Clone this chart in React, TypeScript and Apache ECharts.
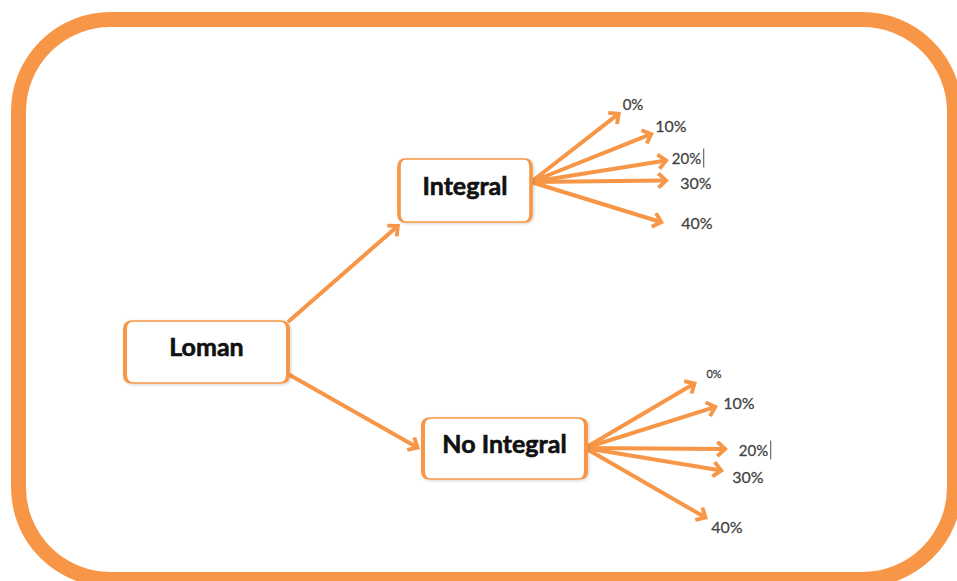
import React, { useEffect, useRef } from "react";
import * as echarts from "echarts";

// ---- content ----
const rootName = "Loman";
const branchNames = ["Integral", "No Integral"];
const rateLabels = ["0%", "10%", "20%", "30%", "40%"];

// ---- layout (pixel space of the 957x581 view) ----
const boxCenters = [
  [206.5, 352],
  [465, 190.5],
  [504.5, 448.5],
];
const boxSizes = [
  [163, 62],
  [132, 63],
  [163, 61],
];
// root -> branch arrows: [start, tip]
const rootArrowStarts = [
  [288, 322],
  [288, 374],
];
const rootArrowTips = [
  [400, 224],
  [420, 449],
];
// fan origins per branch
const fanOrigins = [
  [531, 182],
  [585, 448],
];
const fanTips = [
  [[621, 112], [654, 133], [669, 160], [669, 180.5], [664, 223]],
  [[697, 382], [718, 406], [728, 449], [724, 471], [708, 519]],
];
const rateLabelPos = [
  [[633, 104], [671, 125], [688, 158], [696, 182], [697, 222]],
  [[714, 373], [739, 402], [755, 450], [748, 476], [727, 526]],
];
const rateFontSizes = [
  [15, 16, 15, 16, 16],
  [11, 16, 15, 16, 16],
];

const ORANGE = "#F79646";
const HEAD_W = 17;
const HEAD_H = 12;
const CHEVRON = "path://M10 0 L20 10 L16.8 13 L10 6.2 L3.2 13 L0 10 Z";
const BOX_PATH =
  "path://M8 0H152Q160 0 160 8V54Q160 62 152 62H8Q0 62 0 54V8Q0 0 8 0Z";

function arrowCoords(start: number[], tip: number[]) {
  const dx = tip[0] - start[0];
  const dy = tip[1] - start[1];
  const len = Math.sqrt(dx * dx + dy * dy);
  const k = HEAD_H / 2 / len;
  return [start, [tip[0] - dx * k, tip[1] - dy * k]];
}

export default function App() {
  const ref = useRef<HTMLDivElement>(null);

  useEffect(() => {
    if (!ref.current) return;
    const chart = echarts.init(ref.current, undefined, { renderer: "svg" });

    const arrows: any[] = [];
    rootArrowStarts.forEach((s, i) => {
      arrows.push({ coords: arrowCoords(s, rootArrowTips[i]) });
    });
    fanTips.forEach((tips, b) => {
      tips.forEach((t) => {
        arrows.push({ coords: arrowCoords(fanOrigins[b], t) });
      });
    });

    const boxNames = [rootName, ...branchNames];
    const boxData = boxNames.map((n, i) => ({
      name: n,
      value: boxCenters[i],
      symbolSize: boxSizes[i],
    }));

    const rateData: any[] = [];
    branchNames.forEach((_, b) => {
      rateLabels.forEach((r, j) => {
        const fs = rateFontSizes[b][j];
        rateData.push({
          name: r,
          value: rateLabelPos[b][j],
          label: {
            fontSize: fs,
            formatter: r === "20%" ? "{t|" + r + "}{s|}{c|}" : r,
            rich: {
              t: {
                fontSize: fs,
                color: "#1a1a1a",
                fontFamily: "Lato",
                textBorderColor: "#1a1a1a",
                textBorderWidth: 0.35,
              },
              s: { width: 2, height: 1 },
              c: { width: 1, height: 19, backgroundColor: "#222" },
            },
          },
        });
      });
    });

    chart.setOption({
      animation: false,
      backgroundColor: "#ffffff",
      grid: { left: 0, top: 0, width: 957, height: 581 },
      xAxis: { type: "value", min: 0, max: 957, show: false },
      yAxis: { type: "value", min: 0, max: 581, inverse: true, show: false },
      graphic: [
        {
          type: "rect",
          shape: { x: 18.5, y: 19.5, width: 936, height: 560, r: 92 },
          style: { fill: "none", stroke: ORANGE, lineWidth: 15 },
          z: 1,
        },
      ],
      series: [
        {
          type: "lines",
          coordinateSystem: "cartesian2d",
          z: 2,
          symbol: ["none", CHEVRON],
          symbolSize: [1, [HEAD_W, HEAD_H]],
          lineStyle: {
            color: ORANGE,
            width: 4,
            opacity: 1,
          },
          data: arrows,
        },
        {
          type: "scatter",
          z: 3,
          symbol: BOX_PATH,
          clip: false,
          itemStyle: {
            color: "#ffffff",
            borderColor: ORANGE,
            borderWidth: 2.5,
            opacity: 1,
            shadowColor: "rgba(0,0,0,0.18)",
            shadowBlur: 3,
            shadowOffsetX: 1,
            shadowOffsetY: 1,
          },
          label: {
            show: true,
            position: "inside",
            formatter: "{b}",
            fontFamily: "Lato",
            fontWeight: "bold",
            fontSize: 25,
            color: "#111111",
            textBorderColor: "#111111",
            textBorderWidth: 0.6,
            offset: [0, -6],
          },
          data: boxData,
        },
        {
          type: "scatter",
          z: 4,
          symbol: "circle",
          symbolSize: 1,
          clip: false,
          itemStyle: { color: "rgba(0,0,0,0)" },
          label: {
            show: true,
            position: "inside",
            fontFamily: "Lato",
            color: "#1a1a1a",
            textBorderColor: "#1a1a1a",
            textBorderWidth: 0.35,
          },
          data: rateData,
        },
      ],
    });

    return () => chart.dispose();
  }, []);

  return (
    <div
      ref={ref}
      style={{ position: "fixed", left: 0, top: 0, width: 957, height: 581 }}
    />
  );
}
